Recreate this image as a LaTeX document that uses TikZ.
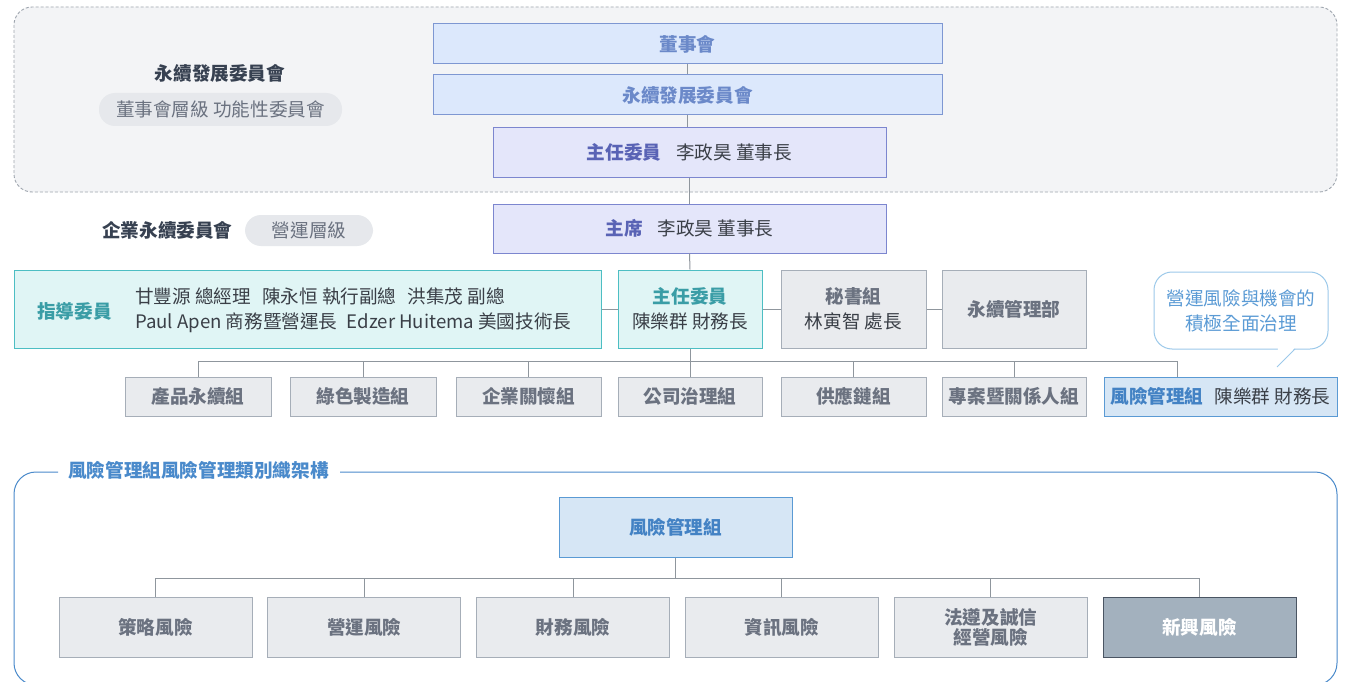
\documentclass[tikz,border=0pt]{standalone}
\usepackage{fontspec}
\setmainfont{Noto Sans CJK TC}
\usetikzlibrary{calc}
\definecolor{dashfill}{HTML}{F3F4F6}
\definecolor{dashline}{HTML}{9FA6AF}
\definecolor{bluefill}{HTML}{DCE8FC}
\definecolor{blueline}{HTML}{7E97D2}
\definecolor{bluetext}{HTML}{6B89C9}
\definecolor{lavfill}{HTML}{E4E6FA}
\definecolor{lavline}{HTML}{7C86CF}
\definecolor{lavtext}{HTML}{5963B5}
\definecolor{tealfill}{HTML}{E0F5F5}
\definecolor{tealline}{HTML}{4DBEC3}
\definecolor{tealtext}{HTML}{3A9DA6}
\definecolor{grayfill}{HTML}{E9EBEE}
\definecolor{grayline}{HTML}{A6AEB8}
\definecolor{graytext}{HTML}{6B7280}
\definecolor{riskfill}{HTML}{D6E6F5}
\definecolor{riskline}{HTML}{5A9AD4}
\definecolor{risktext}{HTML}{4382C4}
\definecolor{darkfill}{HTML}{A3B1BE}
\definecolor{darkline}{HTML}{4A5563}
\definecolor{conn}{HTML}{8F969D}
\definecolor{pillfill}{HTML}{E6E8EC}
\definecolor{labeltext}{HTML}{374151}
\definecolor{nametext}{HTML}{3A3F47}
\definecolor{frame}{HTML}{4A8ACB}
\definecolor{bubbleline}{HTML}{9CC9EA}
\definecolor{bubbletext}{HTML}{5B9BD5}
\begin{document}
\begin{tikzpicture}[x=1pt,y=-1pt,
  font=\fontsize{18.6}{22}\selectfont,
  basebox/.style={draw, line width=1pt, inner sep=0pt, align=center, text=nametext},
  bluebox/.style={basebox, fill=bluefill, draw=blueline, font=\fontsize{18.6}{22}\selectfont\bfseries, text=bluetext},
  lavbox/.style={basebox, fill=lavfill, draw=lavline},
  tealbox/.style={basebox, fill=tealfill, draw=tealline},
  graybox/.style={basebox, fill=grayfill, draw=grayline, font=\fontsize{18.6}{22}\selectfont\bfseries, text=graytext},
  riskbox/.style={basebox, fill=riskfill, draw=riskline},
  darkbox/.style={basebox, fill=darkfill, draw=darkline, font=\fontsize{18.6}{22}\selectfont\bfseries, text=white},
  pill/.style={fill=pillfill, rounded corners=16pt, inner sep=0pt, text=graytext},
  biglabel/.style={font=\fontsize{18.6}{22}\selectfont\bfseries, text=labeltext, inner sep=0pt},
  link/.style={draw=conn, line width=1pt},
  twoline/.style={font=\fontsize{18.6}{25}\selectfont},
  twolinebold/.style={font=\fontsize{18.6}{25}\selectfont\bfseries}
]
\useasboundingbox (0,0) rectangle (1346,682);
\fill[white] (0,0) rectangle (1346,682);

% top dashed region
\draw[dashline, fill=dashfill, line width=0.9pt, dash pattern=on 3pt off 2pt, rounded corners=18pt] (14,7) rectangle (1337,192);

% left labels
\node[biglabel] (lbl1) at (220,73) {永續發展委員會};
\node[pill, minimum width=243, minimum height=33] (pill1) at (220.5,109.5) {董事會層級 功能性委員會};
\node[biglabel, anchor=west] (lbl2) at (102,230) {企業永續委員會};
\node[pill, minimum width=128, minimum height=31] (pill2) at (309,230.5) {營運層級};

% top chain
\node[bluebox, minimum width=509, minimum height=40] (board) at (687.5,44) {董事會};
\node[bluebox, minimum width=509, minimum height=40] (sdc) at (687.5,95) {永續發展委員會};
\node[lavbox, minimum width=393, minimum height=49] (chair1) at (689.5,152.5) {\textbf{\color{lavtext}主任委員}\hspace{0.8em}李政昊 董事長};
\node[lavbox, minimum width=393, minimum height=49] (chair2) at (689.5,228.5) {\textbf{\color{lavtext}主席}\hspace{0.8em}李政昊 董事長};

% middle row
\node[tealbox, minimum width=587, minimum height=78] (guide) at (307.5,309) {};
\node[anchor=west, inner sep=0pt, font=\fontsize{18.6}{22}\selectfont\bfseries, text=tealtext] (guidet) at (37,311) {指導委員};
\node[anchor=west, inner sep=0pt, twoline, align=left, text=nametext] (guiden) at (135,310.5) {甘豐源 總經理\hspace{0.6em}陳永恒 執行副總\hspace{0.6em}洪集茂 副總\\Paul Apen 商務暨營運長\hspace{0.5em}Edzer Huitema 美國技術長};
\node[tealbox, twoline, minimum width=144, minimum height=78] (exec) at (690,309) {\textbf{\color{tealtext}主任委員}\\陳樂群 財務長};
\node[graybox, twolinebold, minimum width=145, minimum height=78] (sec) at (853.5,309) {秘書組\\{\mdseries\color{nametext}林寅智 處長}};
\node[graybox, minimum width=144, minimum height=78] (mgmt) at (1014,309) {永續管理部};

% callout
\node[draw=bubbleline, line width=1pt, fill=white, rounded corners=18pt, minimum width=174, minimum height=77, inner sep=0pt, twoline, align=center, text=bubbletext] (bubble) at (1241,310.5) {營運風險與機會的\\積極全面治理};
\coordinate (tailL) at (1278,349);
\coordinate (tailR) at (1295,349);
\coordinate (tailT) at (1277,367);
\fill[white] ($(tailL)+(0,-1.5)$) -- (tailT) -- ($(tailR)+(0,-1.5)$) -- cycle;
\draw[bubbleline, line width=1pt] (tailR) -- (tailT);

% working groups
\node[graybox, minimum width=146, minimum height=39] (g1) at (198,396.5) {產品永續組};
\node[graybox, minimum width=146, minimum height=39] (g2) at (363,396.5) {綠色製造組};
\node[graybox, minimum width=145, minimum height=39] (g3) at (528.5,396.5) {企業關懷組};
\node[graybox, minimum width=144, minimum height=39] (g4) at (690,396.5) {公司治理組};
\node[graybox, minimum width=145, minimum height=39] (g5) at (853.5,396.5) {供應鏈組};
\node[graybox, minimum width=144, minimum height=39] (g6) at (1014,396.5) {專案暨關係人組};
\node[riskbox, minimum width=233, minimum height=39] (risk) at (1220.5,396.5) {\textbf{\color{risktext}風險管理組}\hspace{0.6em}陳樂群 財務長};

% connectors (upper)
\draw[link] (board.south) -- (sdc.north);
\draw[link] (sdc.south) -- (sdc.south |- chair1.north);
\draw[link] (chair1.south) -- (chair2.north);
\draw[link] (chair2.south) -- (exec.north);
\draw[link] (guide.east) -- (exec.west);
\draw[link] (exec.east) -- (sec.west);
\draw[link] (sec.east) -- (mgmt.west);
\coordinate (bus1) at (690,361);
\coordinate (busR) at (1177,361);
\draw[link] (exec.south) -- (bus1);
\draw[link] (g1.north) |- (busR);
\draw[link] (busR) -- (busR |- risk.north);
\foreach \g in {g2,g3,g4,g5,g6} \draw[link] (\g.north) -- (\g.north |- bus1);

% bottom frame
\draw[frame, line width=1pt, rounded corners=22pt] (58,472) -- (14,472) -- (14,685) -- (1337,685) -- (1337,472) -- (340,472);
\node[inner sep=0pt, font=\fontsize{18.6}{22}\selectfont\bfseries, text=frame, anchor=west] (ftitle) at (68,470) {風險管理組風險管理類別織架構};

\node[riskbox, minimum width=233, minimum height=60, font=\fontsize{18.6}{22}\selectfont\bfseries, text=risktext] (rmg) at (675.5,527) {風險管理組};
\node[graybox, minimum width=193, minimum height=60] (r1) at (155.5,627) {策略風險};
\node[graybox, minimum width=193, minimum height=60] (r2) at (364.3,627) {營運風險};
\node[graybox, minimum width=193, minimum height=60] (r3) at (573.1,627) {財務風險};
\node[graybox, minimum width=193, minimum height=60] (r4) at (781.9,627) {資訊風險};
\node[graybox, minimum width=193, minimum height=60, font=\fontsize{18.6}{20}\selectfont\bfseries] (r5) at (990.7,627) {法遵及誠信\\經營風險};
\node[darkbox, minimum width=193, minimum height=60] (r6) at (1199.5,627) {新興風險};

\coordinate (bus2) at (675.5,578);
\draw[link] (rmg.south) -- (bus2);
\draw[link] (r1.north) |- (r6.north |- bus2) -- (r6.north);
\foreach \r in {r2,r3,r4,r5} \draw[link] (\r.north) -- (\r.north |- bus2);
\end{tikzpicture}
\end{document}
